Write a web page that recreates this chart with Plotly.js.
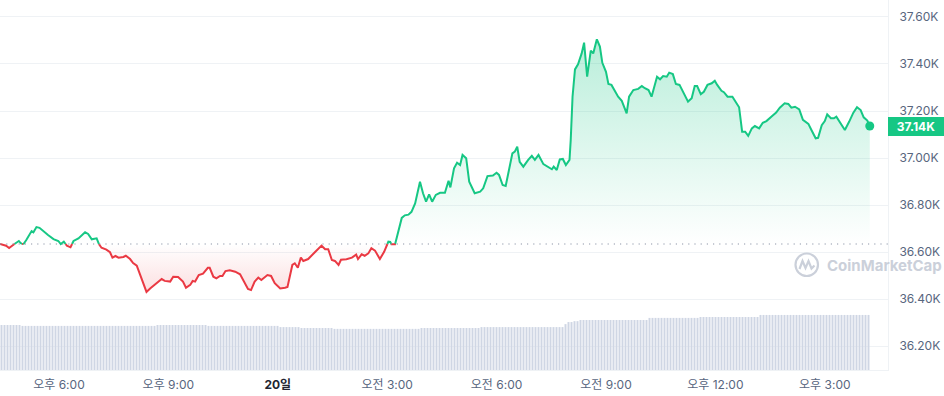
<!DOCTYPE html>
<html><head><meta charset="utf-8">
<script src="https://cdn.plot.ly/plotly-3.0.1.min.js"></script>
<style>html,body{margin:0;padding:0;background:#fff}#chart{width:944px;height:396px}</style>
</head><body><div id="chart"></div>
<script>
// minutes relative to 18:00 (Nov 19)
const minutes = [-97,-87,-82,-76,-70,-66,-63,-60,-58,-54,
-49,-45,-42,-37,-32,-26,-18,-9,-1,3,
8,13,19,24,32,43,48,54,62,66,
70,78,84,88,93,98,106,110,117,122,
128,133,139,144,150,158,169,174,183,188,
196,204,209,216,220,224,230,237,245,248,
254,259,265,269,274,281,290,298,305,311,
316,322,328,333,343,349,355,364,372,376,
384,388,393,398,402,410,421,432,438,443,
449,454,460,464,473,482,489,492,498,503,
509,514,520,528,535,542,545,547,553,558,
564,569,575,580,586,594,599,604,609,614,
620,627,635,641,644,650,655,660,664,670,
675,684,693,698,705,714,720,724,730,735,
742,746,750,754,758,764,772,778,783,789,
797,805,811,814,819,824,829,834,840,842,
843,845,849,854,860,864,869,875,879,885,
890,894,900,904,909,915,920,926,931,934,
938,945,953,959,964,970,975,984,989,994,
1000,1004,1010,1015,1021,1028,1035,1041,1046,1050,
1056,1061,1067,1074,1079,1083,1090,1094,1100,1108,
1114,1119,1124,1129,1134,1140,1145,1152,1158,1164,
1172,1180,1186,1194,1200,1205,1211,1218,1224,1233,
1238,1245,1249,1255,1260,1264,1270,1275,1279,1286,
1293,1300,1307,1313,1319,1324,1330,1334];

const prices = [36634,36627,36617,36628,36641,36647,36638,36633,36635,36650,
36672,36689,36684,36706,36703,36689,36672,36655,36647,36634,
36644,36627,36620,36647,36658,36684,36677,36654,36658,36633,
36618,36610,36599,36576,36583,36576,36579,36584,36570,36553,
36542,36505,36460,36430,36445,36463,36485,36477,36474,36495,
36494,36474,36448,36460,36477,36474,36502,36508,36533,36533,
36495,36488,36498,36498,36519,36522,36516,36505,36474,36443,
36438,36474,36491,36481,36502,36498,36467,36445,36448,36451,
36545,36552,36533,36576,36562,36570,36599,36627,36612,36612,
36566,36562,36545,36567,36569,36576,36589,36570,36590,36584,
36594,36616,36606,36570,36601,36644,36643,36633,36633,36680,
36745,36756,36759,36771,36807,36899,36850,36814,36845,36814,
36843,36852,36852,36903,36875,36956,36980,36970,37013,36999,
36899,36850,36857,36871,36923,36925,36937,36928,36885,36881,
36963,37020,37027,37048,36984,36963,36992,37009,36992,37013,
36974,36960,36952,36963,36949,36994,36996,36970,36992,37077,
37166,37261,37377,37399,37445,37491,37346,37457,37445,37505,
37474,37405,37367,37315,37311,37282,37261,37243,37211,37190,
37261,37289,37294,37306,37297,37289,37261,37346,37335,37349,
37346,37363,37357,37315,37311,37275,37240,37254,37306,37306,
37272,37282,37311,37318,37329,37311,37286,37280,37261,37261,
37233,37216,37112,37112,37094,37126,37136,37126,37150,37157,
37176,37193,37214,37233,37230,37214,37218,37207,37162,37145,
37119,37084,37086,37140,37157,37186,37169,37169,37176,37145,
37119,37154,37193,37216,37204,37173,37159,37136];

// volume (billions), one bar per interval
const volume = [15.2,15.2,15.2,15.2,15.2,15.2,15.2,
14.9,14.9,14.9,14.9,14.9,14.9,14.9,14.9,14.9,14.9,
14.9,14.9,14.9,14.9,14.9,14.9,14.9,14.9,14.9,14.9,
14.9,14.9,14.9,14.9,14.9,14.9,14.9,14.9,14.9,14.9,
14.9,14.9,14.9,14.9,14.9,14.9,14.9,14.9,14.9,14.9,
14.9,14.9,14.9,14.9,14.9,
15.2,15.2,15.2,15.2,15.2,15.2,15.2,15.2,15.2,15.2,
15.2,15.2,15.2,15.2,15.2,15.2,15.2,
14.9,14.9,14.9,14.9,14.9,14.9,14.9,14.9,14.9,14.9,
14.9,14.9,14.9,14.9,14.9,14.9,14.9,14.9,14.9,14.9,
14.9,14.9,14.9,14.9,
14.5,14.5,14.5,14.5,14.5,14.5,14.5,
14.2,14.2,14.2,14.2,14.2,14.2,14.2,14.2,14.2,14.2,14.2,
13.9,13.9,13.9,13.9,13.9,13.9,13.9,13.9,13.9,13.9,
13.9,13.9,13.9,13.9,13.9,13.9,13.9,13.9,13.9,13.9,
13.9,13.9,13.9,13.9,13.9,13.9,13.9,13.9,13.9,
14.2,14.2,14.2,14.2,14.2,14.2,14.2,14.2,14.2,14.2,
14.2,14.2,14.2,14.2,14.2,14.2,14.2,14.2,14.2,14.2,
14.5,14.5,14.5,14.5,14.5,14.5,14.5,14.5,14.5,14.5,
14.5,14.5,14.5,14.5,14.5,14.5,14.5,14.5,14.5,14.5,
14.5,14.5,14.5,14.5,14.5,14.5,14.5,14.5,
15.5,16.2,16.2,16.5,16.5,
16.9,16.9,16.9,16.9,16.9,16.9,16.9,16.9,16.9,16.9,
16.9,16.9,16.9,16.9,16.9,16.9,16.9,16.9,16.9,16.9,
16.9,16.9,16.9,
17.6,17.6,17.6,17.6,17.6,17.6,17.6,17.6,17.6,17.6,
17.6,17.6,17.6,17.6,17.6,17.6,17.6,
17.9,17.9,17.9,17.9,17.9,17.9,17.9,17.9,17.9,17.9,
17.9,17.9,17.9,17.9,17.9,17.9,17.9,17.9,17.9,17.9,
18.6,18.6,18.6,18.6,18.6,18.6,18.6,18.6,18.6,18.6,
18.6,18.6,18.6,18.6,18.6,18.6,18.6,18.6,18.6,18.6,
18.6,18.6,18.6,18.6,18.6,18.6,18.6,18.6,18.6,18.6,
18.6,18.6,18.6,18.6,18.6,18.6,18.6];

const timeTicks = [0,180,360,540,720,900,1080,1260];
const timeLabels = ['오후 6:00','오후 9:00','<b><span style="color:#222531">20일</span></b>','오전 3:00','오전 6:00','오전 9:00','오후 12:00','오후 3:00'];
const priceTicks = [36200,36400,36600,36800,37000,37200,37400,37600];
const priceLabels = ['36.20K','36.40K','36.60K','36.80K','37.00K','37.20K','37.40K','37.60K'];
const openPrice = 36634;
const lastLabel = '37.14K';

const GREEN = '#16c784', RED = '#ea3943';
const FONT = 'Inter, "Noto Sans CJK KR", sans-serif';

const n = Math.min(minutes.length, prices.length);
// insert baseline crossings so the colour split is exact
const ax = [], ay = [];
for (let i = 0; i < n; i++) {
  ax.push(minutes[i]); ay.push(prices[i]);
  if (i < n - 1) {
    const a = prices[i] - openPrice, b = prices[i+1] - openPrice;
    if (a * b < 0) {
      const f = a / (a - b);
      ax.push(minutes[i] + f * (minutes[i+1] - minutes[i]));
      ay.push(openPrice);
    }
  }
}
const baseY = ay.map(() => openPrice);
const upY = ay.map(v => Math.max(v, openPrice));
const dnY = ay.map(v => Math.min(v, openPrice));
const gY = ay.map(v => v >= openPrice ? v : null);
const rY = ay.map(v => v <= openPrice ? v : null);
const maxP = Math.max(...prices), minP = Math.min(...prices);
const lastT = minutes[n-1], lastP = prices[n-1];

const traces = [
  {x: ax, y: baseY, mode: 'lines', line: {width: 0}, hoverinfo: 'skip'},
  {x: ax, y: upY, mode: 'lines', line: {width: 0}, fill: 'tonexty', hoverinfo: 'skip',
   fillgradient: {type: 'vertical', start: openPrice, stop: maxP,
     colorscale: [[0, 'rgba(22,199,132,0)'], [1, 'rgba(22,199,132,0.30)']]}},
  {x: ax, y: baseY, mode: 'lines', line: {width: 0}, hoverinfo: 'skip'},
  {x: ax, y: dnY, mode: 'lines', line: {width: 0}, fill: 'tonexty', hoverinfo: 'skip',
   fillgradient: {type: 'vertical', start: minP, stop: openPrice,
     colorscale: [[0, 'rgba(234,57,67,0.16)'], [1, 'rgba(234,57,67,0)']]}},
  {x: ax, y: gY, mode: 'lines', line: {color: GREEN, width: 2}, connectgaps: false},
  {x: ax, y: rY, mode: 'lines', line: {color: RED, width: 2}, connectgaps: false},
  {x: [lastT], y: [lastP], mode: 'markers', marker: {color: GREEN, size: 9}},
  {type: 'bar', y: volume, xaxis: 'x2', yaxis: 'y2', marker: {color: '#cfd6e4', line: {width: 0}}, hoverinfo: 'skip'}
];

const W = 888, H = 370;
const px = x => x / W, py = y => (H - y) / H;
const wm = '#cbd0da';
const mPath = 'M' + px(799.5) + ',' + py(269) + ' L' + px(802.5) + ',' + py(261) +
  ' L' + px(805.5) + ',' + py(268) + ' L' + px(808.5) + ',' + py(261) +
  ' L' + px(811.5) + ',' + py(268.5) + ' L' + px(814.5) + ',' + py(265.5);

const layout = {
  width: 944, height: 396,
  margin: {l: 0, r: 56, t: 0, b: 26},
  paper_bgcolor: '#fff', plot_bgcolor: '#fff',
  showlegend: false,
  bargap: 0.34,
  font: {family: FONT, size: 12, color: '#58667e'},
  xaxis: {range: [-97, 1364], tickvals: timeTicks, ticktext: timeLabels,
    showgrid: false, zeroline: false, showline: true, linecolor: '#eff2f5', linewidth: 1,
    ticks: 'outside', ticklen: 4, tickcolor: 'rgba(0,0,0,0)',
    tickfont: {family: FONT, size: 12, color: '#58667e'}, fixedrange: true},
  yaxis: {range: [36097.9, 37672.3], side: 'right', tickvals: priceTicks, ticktext: priceLabels,
    showgrid: true, gridcolor: '#eff2f5', zeroline: false, showline: true, linecolor: '#eff2f5',
    ticks: 'outside', ticklen: 8, tickcolor: 'rgba(0,0,0,0)',
    tickfont: {family: FONT, size: 12, color: '#58667e'}, fixedrange: true},
  xaxis2: {overlaying: 'x', anchor: 'y2', range: [-0.5, 295.5], visible: false, fixedrange: true},
  yaxis2: {overlaying: 'y', anchor: 'x2', range: [0, 125], visible: false, fixedrange: true},
  shapes: [
    {type: 'line', xref: 'paper', x0: 0, x1: 1, yref: 'y', y0: openPrice, y1: openPrice,
     line: {color: '#8d96a8', width: 1.2, dash: '1.2px,5px'}, layer: 'above'},
    {type: 'circle', xref: 'paper', yref: 'paper', x0: px(795.5), x1: px(818), y0: py(276), y1: py(253.5),
     line: {color: wm, width: 2.2}},
    {type: 'path', xref: 'paper', yref: 'paper', path: mPath, line: {color: wm, width: 2.2}}
  ],
  annotations: [
    {xref: 'paper', yref: 'y', x: 1, y: lastP, xanchor: 'left', yanchor: 'middle',
     text: '<b>' + lastLabel + '</b>', showarrow: false, bgcolor: GREEN,
     width: 56, height: 19, borderpad: 0, borderwidth: 0,
     font: {family: FONT, size: 12, color: '#ffffff'}},
    {xref: 'paper', yref: 'paper', x: px(825), y: py(265), xanchor: 'left', yanchor: 'middle',
     text: '<b>CoinMarketCap</b>', showarrow: false,
     font: {family: FONT, size: 15, color: wm}}
  ]
};

Plotly.newPlot('chart', traces, layout, {displayModeBar: false, staticPlot: true});
</script>
</body></html>
